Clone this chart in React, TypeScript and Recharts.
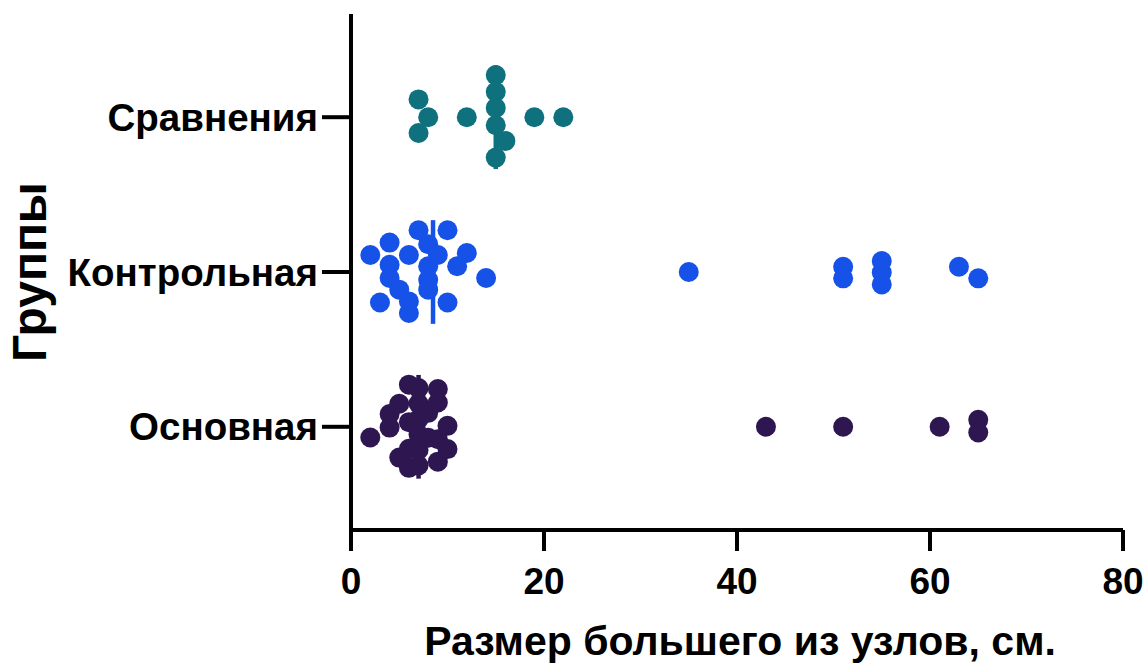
import React from 'react';
import { ScatterChart, Scatter, XAxis, YAxis, ReferenceLine } from 'recharts';

// Group names, bottom to top (y = 1, 2, 3)
const CATEGORIES = ['Основная', 'Контрольная', 'Сравнения'];
const X_TICKS = [0, 20, 40, 60, 80];

// Сравнения: node size and vertical spread inside the swarm (category units)
const compValues = [7, 8, 7, 12, 15, 15, 15, 15, 16, 15, 19, 22];
const compSpread = [0.115, 0, -0.102, 0, 0.272, 0.164, 0.06, -0.052, -0.153, -0.261, 0, 0];

// Контрольная
const ctrlValues = [7, 10, 4, 2, 6, 8, 9, 12, 11, 4, 8, 4, 8, 14, 5, 8, 3, 6, 10, 6, 35, 51, 51, 55, 55, 55, 63, 65];
const ctrlSpread = [0.27, 0.27, 0.19, 0.11, 0.11, 0.18, 0.11, 0.123, 0.037, 0.047, 0.037, -0.039, -0.05, -0.039, -0.114, -0.114, -0.197, -0.19, -0.197, -0.265, 0, 0.034, -0.041, 0.071, -0.004, -0.08, 0.034, -0.041];

// Основная
const mainValues = [2, 4, 4, 5, 5, 6, 6, 6, 6, 7, 7, 7, 7, 7, 7, 8, 8, 9, 9, 9, 9, 10, 10, 43, 51, 61, 65, 65];
const mainSpread = [-0.069, 0.082, -0.005, 0.149, -0.199, 0.272, -0.265, -0.142, 0.03, 0.25, 0.15, 0.05, -0.05, -0.15, -0.25, 0.09, -0.07, 0.244, 0.157, -0.08, -0.225, 0.006, -0.144, 0, 0, 0, 0.045, -0.037];

// medians per group (bottom to top)
const MEDIANS = [7, 8.5, 15];

const COLORS = ['#2E1751', '#1652E8', '#0F717D'];
const FONT = '"Liberation Sans", Arial, sans-serif';

const toPoints = (values: number[], spread: number[], level: number) =>
    values.map((v, i) => ({ x: v, y: level + spread[i] }));

const groups = [
    toPoints(mainValues, mainSpread, 1),
    toPoints(ctrlValues, ctrlSpread, 2),
    toPoints(compValues, compSpread, 3),
];

const dot = (color: string) => (props: any) => (
    <circle cx={props.cx} cy={props.cy} r={10} fill={color} />
);

export default function App() {
    return (
        <div style={{ position: 'absolute', left: 0, top: 0, background: '#fff' }}>
            <ScatterChart width={1147} height={663} margin={{ top: 14, right: 24, bottom: 0, left: 0 }}>
                <XAxis
                    type="number"
                    dataKey="x"
                    domain={[0, 80]}
                    ticks={X_TICKS}
                    interval={0}
                    height={133}
                    axisLine={{ stroke: '#000', strokeWidth: 4 }}
                    tickLine={{ stroke: '#000', strokeWidth: 4 }}
                    tickSize={21}
                    tickMargin={17}
                    tick={{ fill: '#000', fontSize: 37, fontWeight: 'bold', fontFamily: FONT }}
                    label={{
                        content: () => (
                            <text x={740} y={655} textAnchor="middle" fill="#000"
                                style={{ fontSize: 41, fontWeight: 'bold', fontFamily: FONT }}>
                                Размер большего из узлов, см.
                            </text>
                        ),
                    }}
                />
                <YAxis
                    type="number"
                    dataKey="y"
                    domain={[1 / 3, 11 / 3]}
                    ticks={[1, 2, 3]}
                    interval={0}
                    width={351}
                    axisLine={{ stroke: '#000', strokeWidth: 4 }}
                    tickLine={{ stroke: '#000', strokeWidth: 4 }}
                    tickSize={29}
                    tickMargin={4}
                    tickFormatter={(v: number) => CATEGORIES[v - 1]}
                    tick={{ fill: '#000', fontSize: 38.5, fontWeight: 'bold', fontFamily: FONT }}
                    label={{
                        content: () => (
                            <text x={46} y={272} textAnchor="middle" fill="#000"
                                transform="rotate(-90 46 272)"
                                style={{ fontSize: 48, fontWeight: 'bold', fontFamily: FONT }}>
                                Группы
                            </text>
                        ),
                    }}
                />
                {MEDIANS.map((m, i) => (
                    <ReferenceLine
                        key={'med' + i}
                        segment={[{ x: m, y: i + 1 - 0.335 }, { x: m, y: i + 1 + 0.335 }]}
                        stroke={COLORS[i]}
                        strokeWidth={4.5}
                    />
                ))}
                {groups.map((pts, i) => (
                    <Scatter
                        key={'g' + i}
                        data={pts}
                        fill={COLORS[i]}
                        shape={dot(COLORS[i])}
                        isAnimationActive={false}
                    />
                ))}
            </ScatterChart>
        </div>
    );
}
